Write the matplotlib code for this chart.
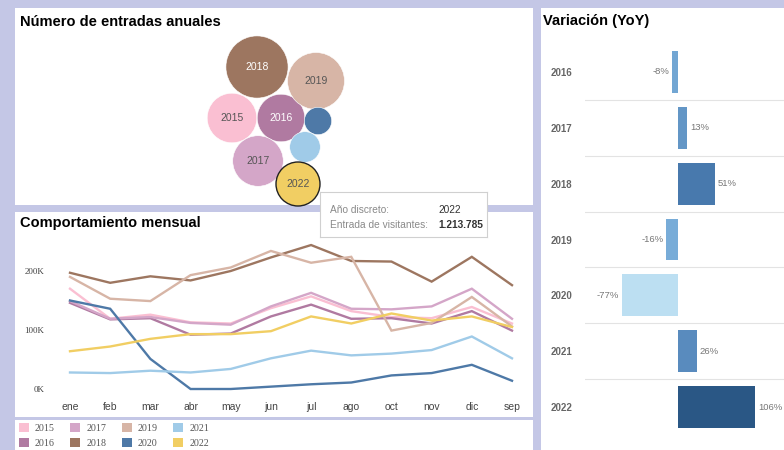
import matplotlib
matplotlib.use("Agg")
import matplotlib.pyplot as plt
from matplotlib.patches import Circle, Patch
from matplotlib.colors import LinearSegmentedColormap, Normalize
import numpy as np

##### Data #####
years = [2015, 2016, 2017, 2018, 2019, 2020, 2021, 2022]
colors = ["#FABFD2", "#B07AA1", "#D4A6C8", "#9D7660", "#D7B5A6", "#4E79A7", "#A0CBE8", "#F1CE63"]

# annual visitors (bubble size)
annual = [1542000, 1419000, 1603000, 2421000, 2034000, 468000, 589000, 1213785]

# monthly visitors in thousands, in the order shown on the x axis
months = ["ene", "feb", "mar", "abr", "may", "jun", "jul", "ago", "oct", "nov", "dic", "sep"]
monthly = {
    2015: [170, 119, 126, 113, 111, 137, 157, 132, 122, 120, 139, 111],
    2016: [146, 118, 120, 92, 94, 123, 143, 119, 120, 111, 132, 99],
    2017: [149, 119, 122, 112, 109, 140, 163, 136, 135, 140, 170, 119],
    2018: [197, 180, 191, 184, 200, 223, 244, 217, 216, 182, 224, 176],
    2019: [190, 153, 149, 193, 206, 234, 214, 224, 99, 112, 156, 106],
    2020: [150, 136, 51, 0, 0, 4, 8, 11, 23, 27, 41, 14],
    2021: [28, 27, 31, 28, 34, 52, 65, 57, 60, 66, 89, 52],
    2022: [64, 72, 85, 93, 93, 98, 123, 111, 128, 116, 123, 105],
}
y_ticks = [0, 100, 200]
y_ticklabels = ["0K", "100K", "200K"]

# year over year change, %
yoy_years = [2016, 2017, 2018, 2019, 2020, 2021, 2022]
yoy = [-8, 13, 51, -16, -77, 26, 106]

##### Layout helpers (pixels, y from top) #####
W, H = 784, 450
def rect(x0, y0, x1, y1):
    return [x0 / W, 1 - y1 / H, (x1 - x0) / W, (y1 - y0) / H]

LAV = "#c4c7e6"
SANS = ["Liberation Sans", "DejaVu Sans"]
SERIF = ["Liberation Serif", "DejaVu Serif"]

fig = plt.figure(figsize=(W / 100, H / 100), dpi=100, facecolor=LAV)

def panel(x0, y0, x1, y1):
    a = fig.add_axes(rect(x0, y0, x1, y1))
    a.set_facecolor("white")
    a.set_xticks([]); a.set_yticks([])
    for s in a.spines.values():
        s.set_visible(False)
    return a

pA = panel(15, 8, 533, 205)
pB = panel(15, 212, 533, 417)
pC = panel(15, 420, 533, 450)
pD = panel(541, 8, 784, 450)

fig.text(20 / W, 1 - 21.5 / H, "Número de entradas anuales", fontsize=10.5, fontweight="bold",
         family=SANS, va="center", ha="left")
fig.text(20 / W, 1 - 223.5 / H, "Comportamiento mensual", fontsize=10.5, fontweight="bold",
         family=SANS, va="center", ha="left")
fig.text(543 / W, 1 - 21.5 / H, "Variación (YoY)", fontsize=10.5, fontweight="bold",
         family=SANS, va="center", ha="left")

##### Bubbles #####
axb = fig.add_axes(rect(15, 8, 533, 205))
axb.set_xlim(15, 533); axb.set_ylim(205, 8)
axb.axis("off")
centers = {2018: (257, 67), 2019: (316, 81), 2015: (232, 118), 2016: (281, 118),
           2020: (318, 121), 2021: (305, 147), 2017: (258, 161), 2022: (298, 184)}
dark_text = {2016: "white", 2018: "white"}
for yr, col, v in zip(years, colors, annual):
    r = 22 * np.sqrt(v / annual[-1])
    cx, cy = centers[yr]
    edge = "#222222" if yr == 2022 else "white"
    lw = 1.0 if yr == 2022 else 0.4
    axb.add_patch(Circle((cx, cy), r, facecolor=col, edgecolor=edge, lw=lw, clip_on=False))
    if r > 18:
        axb.text(cx, cy, str(yr), ha="center", va="center", fontsize=7.5, family=SANS,
                 color=dark_text.get(yr, "#555555"))

##### Monthly lines #####
ax = fig.add_axes(rect(50, 240, 525, 398))
ax.patch.set_alpha(0)
unit = (512 - 70) / 11
ax.set_xlim(-(70 - 50) / unit, 11 + (525 - 512) / unit)
kpx = (389 - 330) / 100
ax.set_ylim(-(398 - 389) / kpx, (389 - 240) / kpx)
x = np.arange(len(months))
for yr, col in zip(years, colors):
    ax.plot(x, monthly[yr], color=col, lw=1.7, solid_joinstyle="miter")
ax.set_xticks(x)
ax.set_xticklabels(months, fontsize=7.5, family=SANS, color="#444444")
ax.set_yticks(y_ticks)
ax.set_yticklabels(y_ticklabels, fontsize=6.5, family=SERIF, color="#444444")
ax.tick_params(length=0)
ax.tick_params(axis="x", pad=3)
ax.tick_params(axis="y", pad=4)
for s in ax.spines.values():
    s.set_visible(False)

##### Legend #####
axl = fig.add_axes(rect(15, 420, 533, 450))
axl.axis("off")
handles = [Patch(facecolor=c, edgecolor="none", label=str(y)) for y, c in zip(years, colors)]
axl.legend(handles=handles, ncol=4, loc="upper left", bbox_to_anchor=(-0.006, 1.12), frameon=False,
           prop={"family": SERIF, "size": 7.2}, labelcolor="#555555", handlelength=1.0,
           handleheight=1.0, handletextpad=0.6, columnspacing=1.55, labelspacing=0.45,
           borderaxespad=0.3)

##### YoY bars #####
axy = fig.add_axes(rect(585, 44, 784, 435))
axy.patch.set_alpha(0)
zpx = 0.726
axy.set_xlim(-(678 - 585) / zpx, (784 - 678) / zpx)
axy.set_ylim(len(yoy) - 0.5, -0.5)
cmap = LinearSegmentedColormap.from_list("yoy", ["#bcdff2", "#78acd8", "#4b7db2", "#2a5785"])
norm = Normalize(min(yoy), max(yoy))
pos = np.arange(len(yoy))
axy.barh(pos, yoy, height=0.75, color=[cmap(norm(v)) for v in yoy])
for i in range(len(yoy) - 1):
    axy.axhline(i + 0.5, color="#e3e3e3", lw=0.8)
for p, v in zip(pos, yoy):
    off = 4 if v >= 0 else -4
    axy.text(v + off, p, f"{v}%", ha="left" if v >= 0 else "right", va="center",
             fontsize=6.8, family=SANS, color="#777777")
axy.set_yticks(pos)
axy.set_yticklabels([str(y) for y in yoy_years], fontsize=7, family=SANS, fontweight="bold",
                    color="#666666")
axy.set_xticks([])
axy.tick_params(length=0, axis="y", pad=9)
for s in axy.spines.values():
    s.set_visible(False)

##### Tooltip #####
axt = fig.add_axes(rect(320, 192, 487, 237))
axt.set_xticks([]); axt.set_yticks([])
axt.set_facecolor("white")
for s in axt.spines.values():
    s.set_color("#d0d0d0"); s.set_linewidth(0.8)
axt.text(10 / 167, 0.60, "Año discreto:", transform=axt.transAxes, fontsize=7.3, family=SANS,
         color="#8a8a8a", va="center")
axt.text(118 / 167, 0.60, "2022", transform=axt.transAxes, fontsize=7.3, family=SANS,
         color="#333333", va="center")
axt.text(10 / 167, 0.26, "Entrada de visitantes:", transform=axt.transAxes, fontsize=7.3,
         family=SANS, color="#8a8a8a", va="center")
axt.text(118 / 167, 0.26, "1.213.785", transform=axt.transAxes, fontsize=7.3, family=SANS,
         color="#333333", fontweight="bold", va="center")

fig.savefig("out.png", dpi=100, facecolor=LAV)
